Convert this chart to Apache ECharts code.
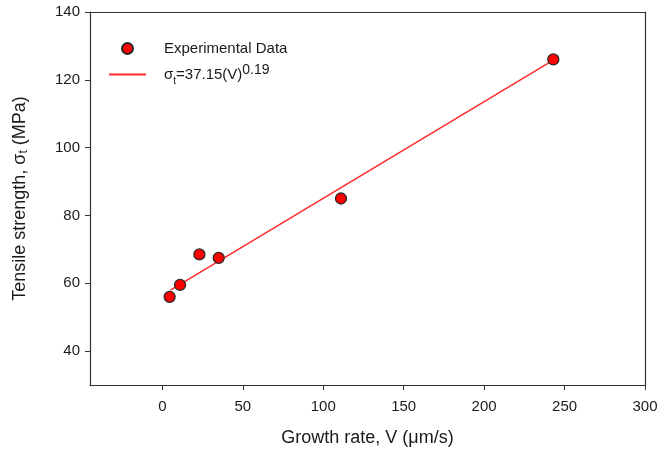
<!DOCTYPE html>
<html>
<head>
<meta charset="utf-8">
<script src="https://cdn.jsdelivr.net/npm/echarts@6/dist/echarts.min.js"></script>
<style>
html,body{margin:0;padding:0;background:#fff;}
#main{width:670px;height:453px;}
</style>
</head>
<body>
<div id="main"></div>
<script>
// 实验数据
var growthRate = [4.5, 11, 23, 35, 111, 243];
var tensileStrength = [56, 59.5, 68.5, 67.5, 85, 126];
// 拟合线端点
var fitX = [5, 243];
var fitY = [58, 125.8];
var xTicks = [0, 50, 100, 150, 200, 250, 300];
var yTicks = [40, 60, 80, 100, 120, 140];

var chart = echarts.init(document.getElementById('main'));
var font = 'Liberation Sans, Arial, sans-serif';
var txt = '#1a1a1a';

var option = {
	animation: false,
	textStyle: { fontFamily: font },
	grid: { left: 90, right: 25, top: 12, bottom: 68 },
	legend: {
		orient: 'vertical',
		left: 103,
		top: 36,
		itemGap: 7,
		itemWidth: 37,
		itemHeight: 11,
		textStyle: {
			fontFamily: font, fontSize: 15, color: txt,
			padding: [0, 0, 0, 13],
			rich: {
				a: { fontSize: 15, color: txt, fontFamily: font },
				sub: { fontSize: 10, color: txt, fontFamily: font, verticalAlign: 'bottom', padding: [7, 0, 0, 0] },
				sup: { fontSize: 14, color: txt, fontFamily: font, verticalAlign: 'top', padding: [0, 0, 9, 0] }
			}
		},
		formatter: function (name) {
			if (name === 'fit') return '{a|σ}{sub|t}{a|=37.15(V)}{sup|0.19}';
			return name;
		},
		data: [
			{ name: 'Experimental Data', icon: 'circle' },
			{ name: 'fit', itemStyle: { opacity: 0 } }
		]
	},
	xAxis: [{
		type: 'value',
		min: -45, max: 300,
		interval: 50,
		name: 'Growth rate, V (μm/s)',
		nameLocation: 'middle',
		nameGap: 44,
		nameTextStyle: { fontSize: 18, color: txt, fontFamily: font },
		axisLine: { show: true, onZero: false, lineStyle: { color: '#333', width: 1.2 } },
		axisTick: { show: true, length: 5, lineStyle: { color: '#333' },
			customValues: xTicks },
		axisLabel: { fontSize: 15, color: txt, margin: 14, customValues: xTicks },
		splitLine: { show: false }
	}, {
		type: 'value',
		position: 'top',
		min: -45, max: 300,
		axisLine: { show: true, onZero: false, lineStyle: { color: '#333', width: 1.2 } },
		axisTick: { show: false },
		axisLabel: { show: false },
		splitLine: { show: false }
	}],
	yAxis: [{
		type: 'value',
		min: 30, max: 140,
		name: 'Tensile strength, {s|σ}{sub|t}{s| (MPa)}',
		nameLocation: 'middle',
		nameGap: 60,
		nameTextStyle: {
			fontSize: 18, color: txt, fontFamily: font,
			rich: {
				s: { fontSize: 18, color: txt, fontFamily: font },
				sub: { fontSize: 12, color: txt, fontFamily: font, verticalAlign: 'bottom', padding: [8, 0, 0, 0] }
			}
		},
		axisLine: { show: true, onZero: false, lineStyle: { color: '#333', width: 1.2 } },
		axisTick: { show: true, length: 5, lineStyle: { color: '#333' }, customValues: yTicks },
		axisLabel: { fontSize: 15, color: txt, margin: 10, customValues: yTicks },
		splitLine: { show: false }
	}, {
		type: 'value',
		position: 'right',
		min: 30, max: 140,
		axisLine: { show: true, onZero: false, lineStyle: { color: '#333', width: 1.2 } },
		axisTick: { show: false },
		axisLabel: { show: false },
		splitLine: { show: false }
	}],
	series: [{
		name: 'fit',
		type: 'line',
		symbol: 'none',
		lineStyle: { color: '#ff2a2a', width: 1.5 },
		itemStyle: { color: '#ff2a2a' },
		data: fitX.map(function (x, i) { return [x, fitY[i]]; }),
		z: 2
	}, {
		name: 'Experimental Data',
		type: 'scatter',
		symbol: 'circle',
		symbolSize: 11,
		itemStyle: { color: '#f00', opacity: 1, borderColor: '#2a2a2a', borderWidth: 1.3 },
		data: growthRate.map(function (x, i) { return [x, tensileStrength[i]]; }),
		z: 3
	}]
};

chart.setOption(option);
window.onresize = chart.resize;
</script>
</body>
</html>
